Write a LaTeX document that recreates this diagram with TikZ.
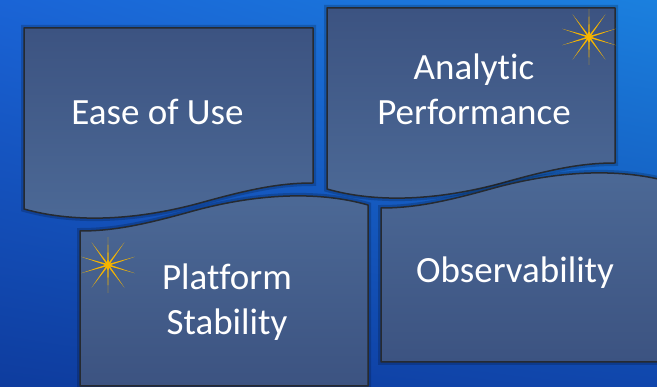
\documentclass[tikz,border=0pt]{standalone}
\usepackage{fontspec}
\setmainfont[Ligatures=NoCommon]{Carlito}
\usetikzlibrary{shadings}
\definecolor{bgTL}{HTML}{1A64D6}
\definecolor{bgTR}{HTML}{1B80DE}
\definecolor{bgBL}{HTML}{0E3C9E}
\definecolor{bgBR}{HTML}{1046AC}
\definecolor{docDark}{HTML}{3C5381}
\definecolor{docLight}{HTML}{4C6996}
\definecolor{edgec}{HTML}{262A30}
\definecolor{stargold}{HTML}{F7B500}
\begin{document}
\begin{tikzpicture}[x=1pt,y=-1pt,
  docshape/.style={draw=edgec, line width=1.5pt, line join=round,
    preaction={draw=black, opacity=0.18, line width=6pt}},
  lbl/.style={text=white, font=\fontsize{37}{44}\selectfont, inner sep=0pt, anchor=base},
  ray/.style={fill=stargold}]
\useasboundingbox (0,0) rectangle (657,387);
\shade[upper left=bgTL, upper right=bgTR, lower left=bgBL, lower right=bgBR] (0,0) rectangle (657,387);
\begin{scope}
\clip (0,0) rectangle (657,387);
% Ease of Use
\shade[docshape, shading angle=135, top color=docDark, bottom color=docLight]
  (24,28) -- (313,28) -- (313,183) .. controls (280,183) and (250,189) .. (200,203)
  .. controls (130,222) and (70,222) .. (24,209) -- cycle;
% Analytic Performance
\shade[docshape, shading angle=135, top color=docDark, bottom color=docLight]
  (327,8) -- (615,8) -- (615,163) .. controls (582,163) and (552,169) .. (502,183)
  .. controls (432,202) and (372,202) .. (327,189) -- cycle;
% Platform Stability
\shade[docshape, shading angle=0, top color=docLight, bottom color=docDark]
  (368,386) -- (80,386) -- (80,231) .. controls (113,231) and (143,225) .. (193,211)
  .. controls (263,192) and (323,192) .. (368,205) -- cycle;
% Observability
\shade[docshape, shading angle=-45, top color=docLight, bottom color=docDark]
  (670,362) -- (381,362) -- (381,208) .. controls (414,208) and (444,202) .. (494,188)
  .. controls (564,169) and (624,169) .. (670,182) -- cycle;
\end{scope}
% labels
\node[lbl] (eou) at (157.5,125) {Ease of Use};
\node[lbl] (ap1) at (474,80) {Analytic};
\node[lbl] (ap2) at (474,125) {Performance};
\node[lbl] (ps1) at (227,290) {Platform};
\node[lbl] (ps2) at (227,335) {Stability};
\node[lbl] (obs) at (515,283) {Observability};
% stars
\foreach \cx/\cy in {589/37, 108/265} {
  \begin{scope}[shift={(\cx,\cy)}]
    \foreach \a in {90,270,17,163,197,343,54,126,234,306} {
      \fill[ray] (\a+90:0.9) -- (\a:28) -- (\a-90:0.9) -- cycle;
    }
    \fill[stargold] (0,0) circle (3);
  \end{scope}
}
\end{tikzpicture}
\end{document}
